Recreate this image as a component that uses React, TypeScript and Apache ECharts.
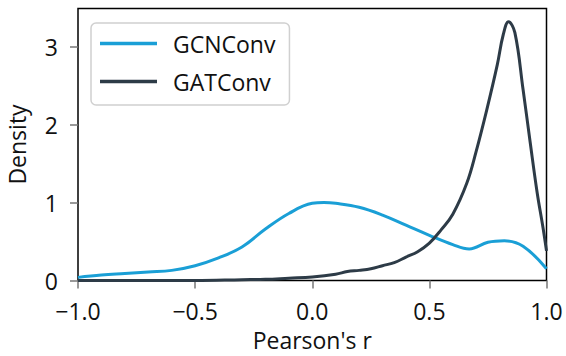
import React, { useEffect, useRef } from "react";
import * as echarts from "echarts";

const seriesNames = ["GCNConv", "GATConv"];
const gcnX = [-1.0, -0.9, -0.8, -0.7, -0.6, -0.5, -0.4, -0.3, -0.2, -0.1, 0.0, 0.05, 0.1, 0.2, 0.3, 0.4, 0.5, 0.6, 0.67, 0.75, 0.82, 0.9, 1.0];
const gcnY = [0.04, 0.07, 0.09, 0.11, 0.13, 0.19, 0.29, 0.43, 0.66, 0.86, 0.99, 1.0, 0.99, 0.94, 0.84, 0.71, 0.58, 0.46, 0.405, 0.49, 0.51, 0.44, 0.15];
const gatX = [-1.0, -0.5, -0.3, -0.2, -0.1, 0.0, 0.1, 0.15, 0.2, 0.25, 0.3, 0.35, 0.4, 0.45, 0.5, 0.55, 0.6, 0.66, 0.7, 0.745, 0.79, 0.815, 0.838, 0.865, 0.9, 0.93, 0.96, 0.985, 1.0];
const gatY = [0.0, 0.0, 0.01, 0.015, 0.03, 0.045, 0.08, 0.115, 0.13, 0.15, 0.19, 0.23, 0.3, 0.37, 0.48, 0.65, 0.85, 1.25, 1.66, 2.19, 2.77, 3.15, 3.32, 3.18, 2.45, 1.78, 1.13, 0.68, 0.38];
const yTicks = [0, 1, 2, 3];
const xTicks = [-1.0, -0.5, 0.0, 0.5, 1.0];
const colors = ["#1a9fd6", "#2d3b47"];

const FONT = "Open Sans";

export default function App() {
  const ref = useRef<HTMLDivElement>(null);
  useEffect(() => {
    if (!ref.current) return;
    const chart = echarts.init(ref.current, undefined, { renderer: "svg" });
    const fmt = (v: number) => {
      const s = Math.abs(v).toFixed(1);
      return v < -1e-9 ? "\u2212" + s : s;
    };
    chart.setOption({
      animation: false,
      textStyle: { fontFamily: FONT },
      grid: {
        left: 78,
        right: 19.5,
        top: 8.5,
        bottom: 75.5,
        outerBoundsMode: "none",
        containLabel: false,
        show: true,
        borderColor: "#000",
        borderWidth: 1.5,
        backgroundColor: "#fff",
      },
      legend: {
        orient: "vertical",
        left: 91,
        top: 23,
        data: seriesNames,
        icon: "rect",
        itemWidth: 57,
        itemHeight: 3.5,
        itemGap: 15,
        padding: [9, 14, 12, 9],
        backgroundColor: "#fff",
        borderColor: "#d0d0d0",
        borderWidth: 1.5,
        borderRadius: 5,
        textStyle: { fontFamily: FONT, fontSize: 23, color: "#111", padding: [0, 0, 0, 11] },
      },
      xAxis: {
        type: "value",
        min: -1,
        max: 1,
        interval: 0.5,
        name: "Pearson's r",
        nameLocation: "middle",
        nameGap: 48,
        nameTextStyle: { fontFamily: FONT, fontSize: 23, color: "#111" },
        axisLine: { show: false, onZero: false },
        axisTick: { show: true, length: 8, lineStyle: { color: "#777", width: 1.5 }, customValues: xTicks },
        axisLabel: { fontFamily: FONT, fontSize: 23, color: "#111", margin: 19, formatter: fmt, customValues: xTicks },
        splitLine: { show: false },
      },
      yAxis: {
        type: "value",
        min: 0,
        max: 3.49,
        interval: 1,
        name: "Density",
        nameLocation: "middle",
        nameGap: 50,
        nameTextStyle: { fontFamily: FONT, fontSize: 23, color: "#111" },
        axisLine: { show: false, onZero: false },
        axisTick: { show: true, length: 8, lineStyle: { color: "#777", width: 1.5 }, customValues: yTicks },
        axisLabel: { fontFamily: FONT, fontSize: 23, color: "#111", margin: 20, formatter: (v: number) => String(v), customValues: yTicks },
        splitLine: { show: false },
      },
      series: [
        {
          name: seriesNames[0],
          type: "line",
          data: gcnX.map((x, i) => [x, gcnY[i]]),
          smooth: 0.4,
          showSymbol: false,
          symbol: "none",
          lineStyle: { color: colors[0], width: 3 },
          itemStyle: { color: colors[0] },
          z: 3,
        },
        {
          name: seriesNames[1],
          type: "line",
          data: gatX.map((x, i) => [x, gatY[i]]),
          smooth: 0.4,
          showSymbol: false,
          symbol: "none",
          lineStyle: { color: colors[1], width: 3 },
          itemStyle: { color: colors[1] },
          z: 4,
        },
      ],
    });
    return () => chart.dispose();
  }, []);
  return <div ref={ref} style={{ width: 566, height: 356, position: "absolute", left: 0, top: 0 }} />;
}
